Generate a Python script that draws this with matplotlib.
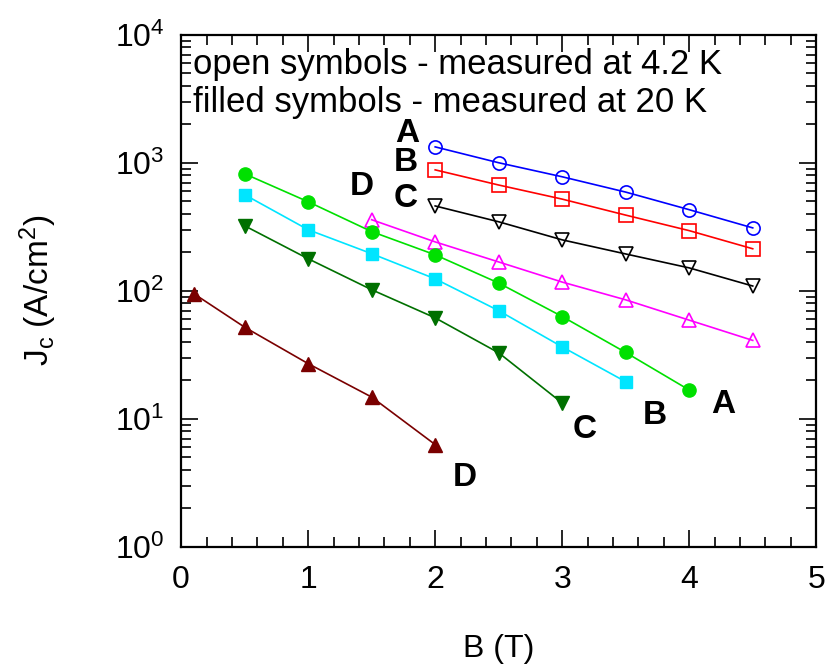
import matplotlib
matplotlib.use("Agg")
import matplotlib.pyplot as plt
from matplotlib.ticker import LogLocator, MultipleLocator, NullFormatter

plt.rcParams['font.family'] = ['Liberation Sans', 'DejaVu Sans']
plt.rcParams['mathtext.fontset'] = 'custom'
plt.rcParams['mathtext.rm'] = 'Liberation Sans'
plt.rcParams['mathtext.it'] = 'Liberation Sans:italic'
plt.rcParams['mathtext.bf'] = 'Liberation Sans:bold'

# 4.2 K (open symbols)
xA42 = [2.0, 2.5, 3.0, 3.5, 4.0, 4.5]
yA42 = [1330, 1000, 777, 590, 430, 310]
xB42 = [2.0, 2.5, 3.0, 3.5, 4.0, 4.5]
yB42 = [880, 670, 520, 390, 295, 213]
xC42 = [2.0, 2.5, 3.0, 3.5, 4.0, 4.5]
yC42 = [460, 346, 250, 194, 151, 109]
xD42 = [1.5, 2.0, 2.5, 3.0, 3.5, 4.0, 4.5]
yD42 = [359, 241, 168, 117, 85, 59, 41]
# 20 K (filled symbols)
xA20 = [0.5, 1.0, 1.5, 2.0, 2.5, 3.0, 3.5, 4.0]
yA20 = [820, 496, 290, 191, 115, 63, 33, 16.8]
xB20 = [0.5, 1.0, 1.5, 2.0, 2.5, 3.0, 3.5]
yB20 = [563, 300, 195, 124, 70, 36.5, 19.5]
xC20 = [0.5, 1.0, 1.5, 2.0, 2.5, 3.0]
yC20 = [322, 178, 102, 61.5, 32.8, 13.3]
xD20 = [0.1, 0.5, 1.0, 1.5, 2.0]
yD20 = [95, 52, 27, 14.8, 6.3]

fig = plt.figure(figsize=(8.27, 6.67), dpi=100)
ax = fig.add_axes([0.219, 0.180, 0.768, 0.768])

ms = 9.5
lw = 1.2
ax.plot(xA42, yA42, '-o', color='#0000ff', mfc='none', mec='#0000ff', ms=ms, lw=lw, mew=1.2)
ax.plot(xB42, yB42, '-s', color='#ff0000', mfc='none', mec='#ff0000', ms=ms, lw=lw, mew=1.2)
ax.plot(xC42, yC42, '-v', color='#000000', mfc='none', mec='#000000', ms=ms + 1, lw=lw, mew=1.2)
ax.plot(xD42, yD42, '-^', color='#ff00ff', mfc='none', mec='#ff00ff', ms=ms + 1, lw=lw, mew=1.2)
ax.plot(xA20, yA20, '-o', color='#00e000', mfc='#00e000', mec='#00e000', ms=ms, lw=lw)
ax.plot(xB20, yB20, '-s', color='#00e5ff', mfc='#00e5ff', mec='#00e5ff', ms=ms - 0.5, lw=lw)
ax.plot(xC20, yC20, '-v', color='#007000', mfc='#007000', mec='#007000', ms=ms + 1, lw=lw)
ax.plot(xD20, yD20, '-^', color='#7a0000', mfc='#7a0000', mec='#7a0000', ms=ms + 1, lw=lw)

ax.set_yscale('log')
ax.set_xlim(0, 5)
ax.set_ylim(1, 1e4)

ax.xaxis.set_major_locator(MultipleLocator(1))
ax.xaxis.set_minor_locator(MultipleLocator(0.2))
ax.yaxis.set_major_locator(LogLocator(base=10, numticks=10))
ax.yaxis.set_minor_locator(LogLocator(base=10, subs=range(2, 10), numticks=20))
ax.yaxis.set_minor_formatter(NullFormatter())

ax.tick_params(which='both', direction='in', top=True, right=True, width=1.2)
ax.tick_params(which='major', length=12, labelsize=23)
ax.tick_params(axis='x', which='major', pad=13)
ax.tick_params(axis='y', which='major', pad=12)
ax.tick_params(which='minor', length=7)
for s in ax.spines.values():
    s.set_linewidth(1.6)

ax.set_xlabel('B (T)', fontsize=23, labelpad=28)
ax.set_ylabel(r'J$_\mathregular{c}$ (A/cm$^\mathregular{2}$)', fontsize=24, labelpad=40)

ax.text(0.018, 0.942, 'open symbols - measured at 4.2 K', transform=ax.transAxes,
        fontsize=25, ha='left', va='center')
ax.text(0.018, 0.868, 'filled symbols - measured at 20 K', transform=ax.transAxes,
        fontsize=25, ha='left', va='center')

lab = dict(fontsize=24, fontweight='bold', ha='center', va='center')
ax.text(1.78, 1680, 'A', **lab)
ax.text(1.765, 1000, 'B', **lab)
ax.text(1.765, 525, 'C', **lab)
ax.text(1.425, 655, 'D', **lab)
ax.text(4.27, 12.9, 'A', **lab)
ax.text(3.73, 10.7, 'B', **lab)
ax.text(3.18, 8.2, 'C', **lab)
ax.text(2.236, 3.46, 'D', **lab)

fig.savefig('out.png', dpi=100)
